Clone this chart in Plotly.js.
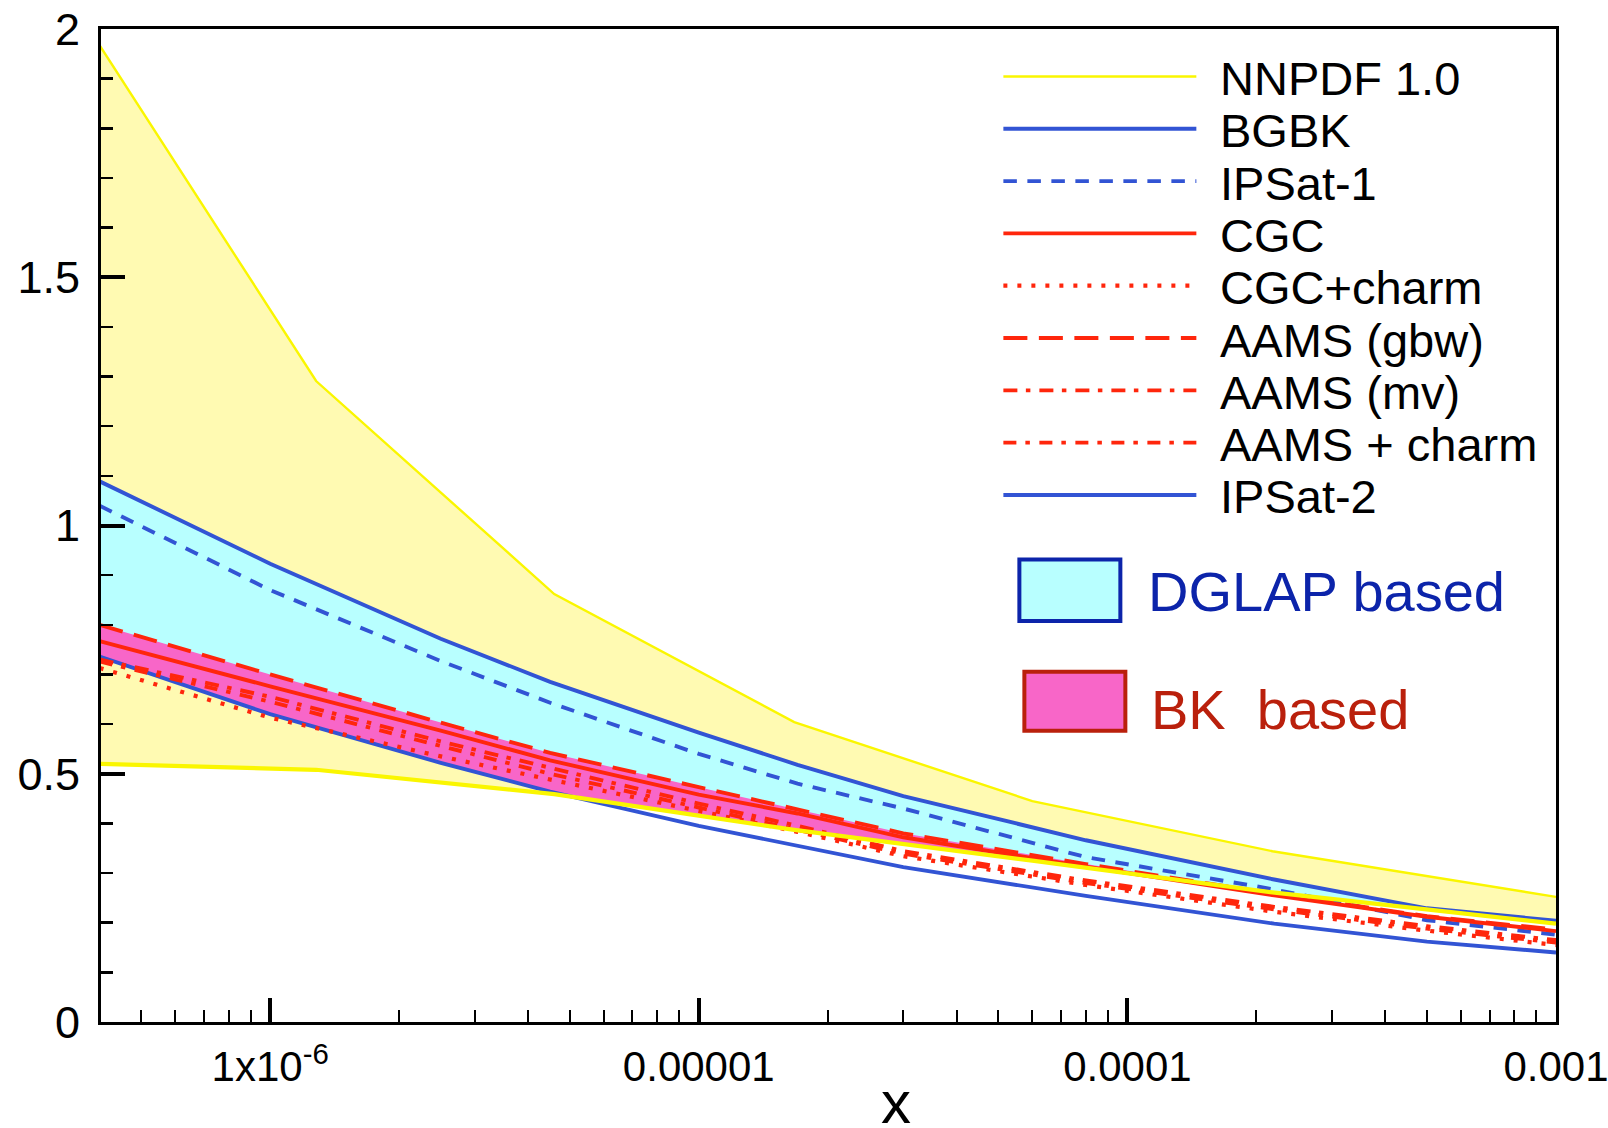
<!DOCTYPE html>
<html>
<head>
<meta charset="utf-8">
<script src="https://cdn.plot.ly/plotly-3.0.1.min.js"></script>
<style>html,body{margin:0;padding:0;background:#fff;}#chart{width:1608px;height:1128px;}</style>
</head>
<body>
<div id="chart"></div>
<script>
// ---------------- data ----------------
const nnpdfX     = [4e-7, 1.28e-6, 4.6e-6, 1.67e-5, 6e-5, 2.18e-4, 1e-3];
const nnpdfUpper = [1.967, 1.291, 0.862, 0.604, 0.445, 0.344, 0.252];
const nnpdfLower = [0.520, 0.508, 0.459, 0.387, 0.325, 0.261, 0.198];

const xGrid     = [4e-7, 1e-6, 2.5e-6, 4.5e-6, 1e-5, 1.7e-5, 3e-5, 8e-5, 2.2e-4, 5e-4, 1e-3];
const bgbk      = [1.089, 0.923, 0.772, 0.685, 0.583, 0.518, 0.455, 0.366, 0.287, 0.229, 0.204];
const ipsat1    = [1.040, 0.870, 0.727, 0.643, 0.540, 0.480, 0.430, 0.332, 0.267, 0.205, 0.176];
const ipsat2    = [0.736, 0.620, 0.522, 0.464, 0.395, 0.355, 0.312, 0.254, 0.198, 0.162, 0.140];
const cgc       = [0.767, 0.676, 0.587, 0.527, 0.458, 0.420, 0.372, 0.313, 0.255, 0.212, 0.183];
const cgcCharm  = [0.713, 0.613, 0.535, 0.488, 0.426, 0.383, 0.334, 0.276, 0.222, 0.184, 0.155];
const aamsGbw   = [0.800, 0.700, 0.603, 0.542, 0.473, 0.428, 0.380, 0.318, 0.258, 0.213, 0.186];
const aamsMv    = [0.730, 0.655, 0.565, 0.512, 0.440, 0.395, 0.344, 0.285, 0.232, 0.193, 0.165];
const aamsCharm = [0.726, 0.645, 0.556, 0.500, 0.432, 0.388, 0.339, 0.280, 0.227, 0.188, 0.160];

const legendNames = ['NNPDF 1.0', 'BGBK', 'IPSat-1', 'CGC', 'CGC+charm', 'AAMS (gbw)', 'AAMS (mv)', 'AAMS + charm', 'IPSat-2'];
const bandLabels = ['DGLAP based', 'BK  based'];
const xTitle = 'x';

const xTickVals = [1e-6, 1e-5, 1e-4, 1e-3];
const xTickText = ['1x10<sup>-6</sup>', '0.00001', '0.0001', '0.001'];
const yTickVals = [0, 0.5, 1, 1.5, 2];
const yTickText = ['0', '0.5', '1', '1.5', '2'];

// ---------------- styles ----------------
const FONT = 'Liberation Sans, Arial, Helvetica, sans-serif';
const YELLOW = 'rgb(250,246,0)';
const YELLOW_FILL = 'rgb(255,250,178)';
const CYAN_FILL = 'rgb(184,255,255)';
const PINK_FILL = 'rgb(248,102,200)';
const BLUE = 'rgb(50,84,212)';
const RED = 'rgb(255,38,12)';
const DGLAP_BORDER = 'rgb(12,36,170)';
const BK_BORDER = 'rgb(186,32,12)';

const DASH_IPSAT1 = '13.5px,10.5px';
const DASH_DOT = '4px,10px';
const DASH_LONG = '24px,11.5px';
const DASH_MV = '14px,8.5px,4.5px,9px';
const DASH_CHARM = '13px,9px,4.5px,9.5px';
const LW = 3.9;

// ---------------- traces ----------------
const traces = [];
// yellow NNPDF band
traces.push({x: nnpdfX, y: nnpdfLower, mode: 'lines', line: {width: 0}, hoverinfo: 'skip'});
traces.push({x: nnpdfX, y: nnpdfUpper, mode: 'lines', line: {width: 0}, fill: 'tonexty', fillcolor: YELLOW_FILL, hoverinfo: 'skip'});
// cyan DGLAP band
traces.push({x: xGrid, y: ipsat2, mode: 'lines', line: {width: 0}, hoverinfo: 'skip'});
traces.push({x: xGrid, y: bgbk, mode: 'lines', line: {width: 0}, fill: 'tonexty', fillcolor: CYAN_FILL, hoverinfo: 'skip'});
// pink BK band
traces.push({x: xGrid, y: ipsat2, mode: 'lines', line: {width: 0}, hoverinfo: 'skip'});
traces.push({x: xGrid, y: aamsGbw, mode: 'lines', line: {width: 0}, fill: 'tonexty', fillcolor: PINK_FILL, hoverinfo: 'skip'});
// white below NNPDF lower
traces.push({x: nnpdfX, y: nnpdfLower, mode: 'lines', line: {width: 0}, fill: 'tozeroy', fillcolor: 'white', hoverinfo: 'skip'});

function lineTrace(x, y, color, width, dash) {
  return {x: x, y: y, mode: 'lines', line: {color: color, width: width, dash: dash}, hoverinfo: 'skip'};
}
traces.push(lineTrace(xGrid, bgbk, BLUE, LW, 'solid'));
traces.push(lineTrace(xGrid, ipsat1, BLUE, LW, DASH_IPSAT1));
traces.push(lineTrace(xGrid, ipsat2, BLUE, LW, 'solid'));
traces.push(lineTrace(xGrid, cgc, RED, LW, 'solid'));
traces.push(lineTrace(xGrid, cgcCharm, RED, 4.2, DASH_DOT));
traces.push(lineTrace(xGrid, aamsGbw, RED, LW, DASH_LONG));
traces.push(lineTrace(xGrid, aamsMv, RED, LW, DASH_MV));
traces.push(lineTrace(xGrid, aamsCharm, RED, LW, DASH_CHARM));
traces.push(lineTrace(nnpdfX, nnpdfUpper, YELLOW, 2.4, 'solid'));
traces.push(lineTrace(nnpdfX, nnpdfLower, YELLOW, 4.2, 'solid'));

// ---------------- legend (drawn) ----------------
const legendColors = [YELLOW, BLUE, BLUE, RED, RED, RED, RED, RED, BLUE];
const legendDashes = ['solid', 'solid', DASH_IPSAT1, 'solid', DASH_DOT, DASH_LONG, DASH_MV, DASH_CHARM, 'solid'];
const legendWidths = [2.4, LW, LW, LW, 4.2, LW, LW, LW, LW];

const L = 100.5, R = 1555.7, T = 28.7, B = 1022.4;
const PW = R - L, PH = B - T;
const px2x = p => (p - L) / PW;
const px2y = p => (B - p) / PH;

const shapes = [];
const annotations = [];
const rowY0 = 76.2, rowStep = 52.35;
legendNames.forEach((name, i) => {
  const yy = rowY0 + rowStep * i;
  shapes.push({type: 'line', xref: 'paper', yref: 'paper', x0: px2x(1003), x1: px2x(1196), y0: px2y(yy), y1: px2y(yy),
    line: {color: legendColors[i], width: legendWidths[i], dash: legendDashes[i]}});
  annotations.push({xref: 'paper', yref: 'paper', x: px2x(1218), y: px2y(yy + 2), xanchor: 'left', yanchor: 'middle',
    text: name, showarrow: false, font: {family: FONT, size: 47, color: 'black'}});
});
// band boxes
shapes.push({type: 'rect', xref: 'paper', yref: 'paper', x0: px2x(1019), x1: px2x(1120), y0: px2y(621), y1: px2y(559.5),
  fillcolor: CYAN_FILL, line: {color: DGLAP_BORDER, width: 4}});
shapes.push({type: 'rect', xref: 'paper', yref: 'paper', x0: px2x(1024), x1: px2x(1125), y0: px2y(731), y1: px2y(672),
  fillcolor: PINK_FILL, line: {color: BK_BORDER, width: 4}});
annotations.push({xref: 'paper', yref: 'paper', x: px2x(1146), y: px2y(592), xanchor: 'left', yanchor: 'middle',
  text: bandLabels[0], showarrow: false, font: {family: FONT, size: 56, color: DGLAP_BORDER}});
annotations.push({xref: 'paper', yref: 'paper', x: px2x(1149), y: px2y(710), xanchor: 'left', yanchor: 'middle',
  text: bandLabels[1].replace(/ /g, '&nbsp;'), showarrow: false, font: {family: FONT, size: 56, color: BK_BORDER}});
// x axis title
annotations.push({xref: 'paper', yref: 'paper', x: px2x(896), y: px2y(1103), xanchor: 'center', yanchor: 'middle',
  text: xTitle, showarrow: false, font: {family: FONT, size: 60, color: 'black'}});

// minor x ticks
const xMinor = [];
for (let e = -7; e <= -4; e++) {
  for (let d = 2; d <= 9; d++) xMinor.push(d * Math.pow(10, e));
}

const layout = {
  width: 1608, height: 1128,
  margin: {l: L, r: 1608 - R, t: T, b: 1128 - B, pad: 0},
  paper_bgcolor: 'white', plot_bgcolor: 'white',
  showlegend: false,
  font: {family: FONT, color: 'black'},
  xaxis: {
    type: 'log', range: [Math.log10(4.03e-7), -3],
    showline: true, linecolor: 'black', linewidth: 3, mirror: true,
    showgrid: false, zeroline: false,
    ticks: 'inside', ticklen: 24, tickwidth: 4, tickcolor: 'black',
    tickmode: 'array', tickvals: xTickVals, ticktext: xTickText,
    tickfont: {family: FONT, size: 42, color: 'black'},
    ticklabelstandoff: 6,
    ticklabeloverflow: 'allow',
    minor: {tickmode: 'array', tickvals: xMinor, ticks: 'inside', ticklen: 12, tickwidth: 2, tickcolor: 'black', showgrid: false}
  },
  yaxis: {
    range: [0, 2],
    showline: true, linecolor: 'black', linewidth: 3, mirror: true,
    showgrid: false, zeroline: false,
    ticks: 'inside', ticklen: 24, tickwidth: 4, tickcolor: 'black',
    tickmode: 'array', tickvals: yTickVals, ticktext: yTickText,
    tickfont: {family: FONT, size: 45, color: 'black'},
    ticklabelstandoff: 9,
    ticklabeloverflow: 'allow',
    minor: {tick0: 0, dtick: 0.1, ticks: 'inside', ticklen: 12, tickwidth: 2.5, tickcolor: 'black', showgrid: false}
  },
  shapes: shapes,
  annotations: annotations
};

Plotly.newPlot('chart', traces, layout, {displayModeBar: false, staticPlot: true});
</script>
</body>
</html>
